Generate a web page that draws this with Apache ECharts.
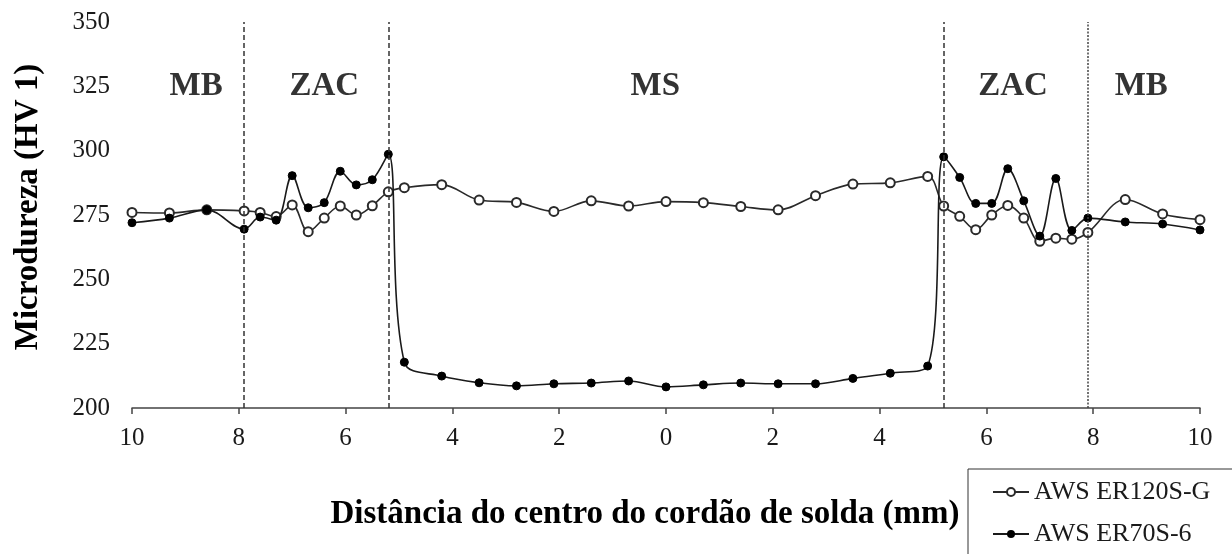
<!DOCTYPE html>
<html>
<head>
<meta charset="utf-8">
<script src="https://cdn.jsdelivr.net/npm/echarts@6/dist/echarts.min.js"></script>
<style>
html,body{margin:0;padding:0;background:#fff;}
#chart{width:1232px;height:554px;}
</style>
</head>
<body>
<div id="chart"></div>
<script>
// Distance from weld centre (mm); negative = left side of the weld
const positions = [-10, -9.3, -8.6, -7.9, -7.6, -7.3, -7.0, -6.7, -6.4, -6.1, -5.8, -5.5, -5.2,
  -4.9, -4.2, -3.5, -2.8, -2.1, -1.4, -0.7, 0, 0.7, 1.4, 2.1, 2.8, 3.5, 4.2, 4.9,
  5.2, 5.5, 5.8, 6.1, 6.4, 6.7, 7.0, 7.3, 7.6, 7.9, 8.6, 9.3, 10];

const er120 = [276, 275.8, 277, 276.6, 276, 274.4, 278.9, 268.5, 273.8, 278.5, 275, 278.6, 284,
  285.6, 286.8, 280.8, 279.9, 276.4, 280.5, 278.5, 280.2, 279.8, 278.3, 277, 282.5, 287, 287.5, 290,
  278.5, 274.5, 269.3, 275, 278.7, 273.8, 264.8, 266, 265.6, 268.2, 281, 275.4, 273.2];

const er70 = [272, 273.8, 277, 269.5, 274.2, 273, 290.3, 277.8, 279.8, 292, 286.7, 288.7, 298.6,
  217.8, 212.4, 209.8, 208.6, 209.4, 209.7, 210.5, 208.2, 209, 209.7, 209.4, 209.4, 211.5, 213.5, 216.3,
  297.6, 289.6, 279.5, 279.5, 293, 280.5, 266.8, 289.2, 269, 273.8, 272.3, 271.5, 269.2];

const seriesNames = ['AWS ER120S-G', 'AWS ER70S-6'];
const xTicks = [-10, -8, -6, -4, -2, 0, 2, 4, 6, 8, 10];
const yTicks = [200, 225, 250, 275, 300, 325, 350];

// Zone boundaries (mm) and zone labels
const boundaries = [-7.9, -5.2, 5.2, 7.9];
const zoneNames = ['MB', 'ZAC', 'MS', 'ZAC', 'MB'];
const zoneCenters = [-8.8, -6.4, -0.2, 6.5, 8.9];
const zoneLabelLevel = 325;

const serif = '"Liberation Serif", "DejaVu Serif", serif';
const ink = '#1a1a1a';

const chart = echarts.init(document.getElementById('chart'));

const pairs = (ys) => positions.map((x, i) => [x, ys[i]]);

chart.setOption({
  animation: false,
  backgroundColor: '#fff',
  grid: { left: 132, right: 32, top: 22, bottom: 146 },
  xAxis: {
    type: 'value',
    min: xTicks[0],
    max: xTicks[xTicks.length - 1],
    interval: 2,
    axisLine: { show: true, onZero: false, lineStyle: { color: '#444', width: 1.5 } },
    axisTick: { show: true, inside: false, length: 6, lineStyle: { color: '#444', width: 1.5 } },
    splitLine: { show: false },
    axisLabel: {
      margin: 18,
      fontFamily: serif, fontSize: 25, color: ink,
      formatter: v => String(Math.abs(v))
    }
  },
  yAxis: {
    type: 'value',
    min: yTicks[0],
    max: yTicks[yTicks.length - 1],
    interval: 25,
    axisLine: { show: false },
    axisTick: { show: false },
    splitLine: { show: false },
    axisLabel: { margin: 22, fontFamily: serif, fontSize: 25, color: ink }
  },
  legend: {
    data: seriesNames,
    orient: 'vertical',
    left: 968,
    top: 469,
    height: 120,
    padding: [10, 40, 24, 24],
    itemGap: 16,
    itemWidth: 36,
    itemHeight: 10,
    borderColor: '#333',
    borderWidth: 1,
    textStyle: { fontFamily: serif, fontSize: 26, color: ink }
  },
  graphic: [
    {
      type: 'text',
      x: 645, y: 514,
      style: {
        text: 'Distância do centro do cordão de solda (mm)',
        fontFamily: serif, fontSize: 33, fontWeight: 'bold', fill: '#000',
        align: 'center', verticalAlign: 'middle'
      }
    },
    {
      type: 'text',
      x: 28, y: 207,
      rotation: Math.PI / 2,
      style: {
        text: 'Microdureza (HV 1)',
        fontFamily: serif, fontSize: 33, fontWeight: 'bold', fill: '#000',
        align: 'center', verticalAlign: 'middle'
      }
    }
  ],
  series: [
    {
      name: seriesNames[0],
      type: 'line',
      smooth: 0.35,
      data: pairs(er120),
      symbol: 'emptyCircle',
      symbolSize: 9,
      lineStyle: { color: '#2a2a2a', width: 1.6 },
      itemStyle: { color: '#2a2a2a', borderColor: '#2a2a2a', borderWidth: 1.3 },
      z: 3,
      markLine: {
        silent: true,
        symbol: ['none', 'none'],
        label: { show: false },
        lineStyle: { color: '#333', type: [5, 3], width: 1.5 },
        data: boundaries.map((b, i) => ({
          xAxis: b,
          lineStyle: i === 3 ? { type: [2, 1.5], width: 1.5, color: '#444' } : undefined
        }))
      }
    },
    {
      name: seriesNames[1],
      type: 'line',
      smooth: 0.35,
      data: pairs(er70),
      symbol: 'circle',
      symbolSize: 8,
      lineStyle: { color: '#1a1a1a', width: 1.6 },
      itemStyle: { color: '#000', borderColor: '#000' },
      z: 4
    },
    {
      name: 'zones',
      type: 'scatter',
      symbolSize: 0,
      silent: true,
      data: zoneCenters.map((c, i) => [c, zoneLabelLevel, zoneNames[i]]),
      label: {
        show: true,
        position: 'inside',
        formatter: p => p.value[2],
        fontFamily: serif, fontSize: 33, fontWeight: 'bold', color: '#000'
      },
      z: 5
    }
  ]
});
</script>
</body>
</html>
